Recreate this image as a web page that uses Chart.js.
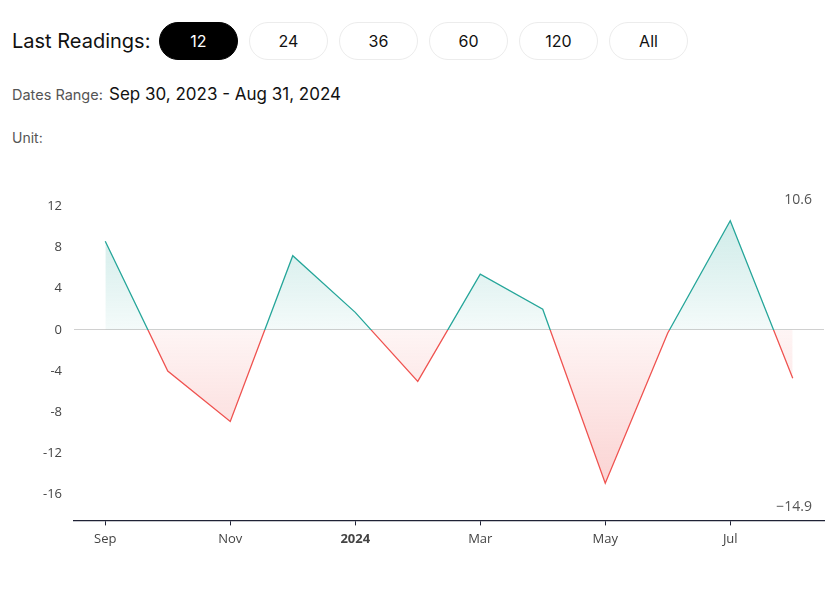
<!DOCTYPE html>
<html>
<head>
<meta charset="utf-8">
<script src="https://cdn.jsdelivr.net/npm/chart.js@4.4.1/dist/chart.umd.min.js"></script>
<style>
    body { margin: 0; background: #fff; font-family: Inter, "Noto Sans", sans-serif; color: #111; }
    .top { position: absolute; left: 12px; top: 22px; display: flex; align-items: center; }
    .top .title { font-size: 20px; width: 147px; }
    .btn { width: 79px; height: 38px; box-sizing: border-box; border: 1px solid #ececec; border-radius: 19px;
           display: flex; align-items: center; justify-content: center; font-size: 16px; margin-right: 11px; }
    .btn.active { background: #000; color: #fff; border-color: #000; }
    .range { position: absolute; left: 12px; top: 84px; font-size: 14.5px; color: #555; }
    .range span { font-size: 17px; color: #111; margin-left: 2px; }
    .unit { position: absolute; left: 12px; top: 129px; font-size: 14px; color: #555; }
    .chart-box { position: absolute; left: 0; top: 170px; width: 836px; height: 383px; }
</style>
</head>
<body>
<div class="top">
    <div class="title">Last Readings:</div>
    <div class="btn active">12</div>
    <div class="btn">24</div>
    <div class="btn">36</div>
    <div class="btn">60</div>
    <div class="btn">120</div>
    <div class="btn">All</div>
</div>
<div class="range">Dates Range: <span>Sep 30, 2023 - Aug 31, 2024</span></div>
<div class="unit">Unit:</div>
<div class="chart-box"><canvas id="readingsChart"></canvas></div>

<script>
// ======== البيانات ========
const months = ['Sep', 'Oct', 'Nov', 'Dec', 'Jan', 'Feb', 'Mar', 'Apr', 'May', 'Jun', 'Jul', 'Aug'];
const monthLabels = ['Sep', '', 'Nov', '', '2024', '', 'Mar', '', 'May', '', 'Jul', ''];
const readings = [8.6, -4.0, -8.9, 7.2, 1.7, -5.0, 5.4, 2.0, -14.9, -0.3, 10.6, -4.7];
const yTicks = [-16, -12, -8, -4, 0, 4, 8, 12];

const green = '#26a69a';
const red = '#ef5350';

function zeroGradient(chart, colorUp, colorDown) {
    const area = chart.chartArea;
    const y0 = chart.scales.y.getPixelForValue(0);
    const f = Math.min(Math.max((y0 - area.top) / (area.bottom - area.top), 0), 1);
    const g = chart.ctx.createLinearGradient(0, area.top, 0, area.bottom);
    g.addColorStop(0, colorUp);
    g.addColorStop(f, colorUp);
    g.addColorStop(f, colorDown);
    g.addColorStop(1, colorDown);
    return g;
}

function fillGradient(chart, up) {
    const y = chart.scales.y;
    const y0 = y.getPixelForValue(0);
    if (up) {
        const g = chart.ctx.createLinearGradient(0, y.getPixelForValue(Math.max(...readings)), 0, y0);
        g.addColorStop(0, 'rgba(38,166,154,0.22)');
        g.addColorStop(1, 'rgba(38,166,154,0.05)');
        return g;
    }
    const g = chart.ctx.createLinearGradient(0, y0, 0, y.getPixelForValue(Math.min(...readings)));
    g.addColorStop(0, 'rgba(239,83,80,0.06)');
    g.addColorStop(1, 'rgba(239,83,80,0.25)');
    return g;
}

// كتابة أعلى وأدنى قيمة
const extremesPlugin = {
    id: 'extremes',
    afterDraw(chart) {
        const ctx = chart.ctx;
        const area = chart.chartArea;
        ctx.save();
        ctx.font = '14px "Open Sans", sans-serif';
        ctx.fillStyle = '#555';
        ctx.textAlign = 'right';
        ctx.textBaseline = 'middle';
        ctx.fillText(String(Math.max(...readings)), area.right - 12, area.top + 10);
        ctx.fillText(String(Math.min(...readings)).replace('-', '\u2212'), area.right - 12, area.bottom - 13);
        ctx.restore();
    }
};

new Chart(document.getElementById('readingsChart'), {
    type: 'line',
    data: {
        labels: months,
        datasets: [{
            data: readings,
            borderWidth: 1.3,
            pointRadius: 0,
            tension: 0,
            borderColor: ctx => ctx.chart.chartArea ? zeroGradient(ctx.chart, green, red) : green,
            fill: {
                target: 'origin',
                above: ctx => ctx.chart.chartArea ? fillGradient(ctx.chart, true) : 'rgba(38,166,154,0.1)',
                below: ctx => ctx.chart.chartArea ? fillGradient(ctx.chart, false) : 'rgba(239,83,80,0.1)'
            }
        }]
    },
    options: {
        responsive: true,
        maintainAspectRatio: false,
        animation: false,
        layout: { padding: { top: 15, right: 12, left: 0, bottom: 0 } },
        plugins: { legend: { display: false }, tooltip: { enabled: false } },
        scales: {
            x: {
                offset: true,
                border: { color: '#1f2235', width: 1.3 },
                grid: {
                    drawOnChartArea: false,
                    drawTicks: true,
                    tickLength: 5,
                    tickColor: ctx => (ctx.index % 2 === 0 ? '#1f2235' : 'rgba(0,0,0,0)')
                },
                ticks: {
                    autoSkip: false,
                    maxRotation: 0,
                    padding: 6,
                    color: '#444',
                    font: ctx => ({
                        family: '"Open Sans", sans-serif',
                        size: 13,
                        weight: ctx.index === 4 ? 'bold' : 'normal'
                    }),
                    callback: (v, i) => monthLabels[i]
                }
            },
            y: {
                min: -18.5,
                max: 13.6,
                afterBuildTicks: scale => { scale.ticks = yTicks.map(v => ({ value: v })); },
                afterFit: scale => { scale.width = 74; },
                border: { display: false },
                grid: {
                    drawTicks: false,
                    color: ctx => (ctx.tick && ctx.tick.value === 0 ? '#d0d0d0' : 'rgba(0,0,0,0)')
                },
                ticks: {
                    padding: 12,
                    color: '#444',
                    font: { family: '"Open Sans", sans-serif', size: 13 }
                }
            }
        }
    },
    plugins: [extremesPlugin]
});
</script>
</body>
</html>
